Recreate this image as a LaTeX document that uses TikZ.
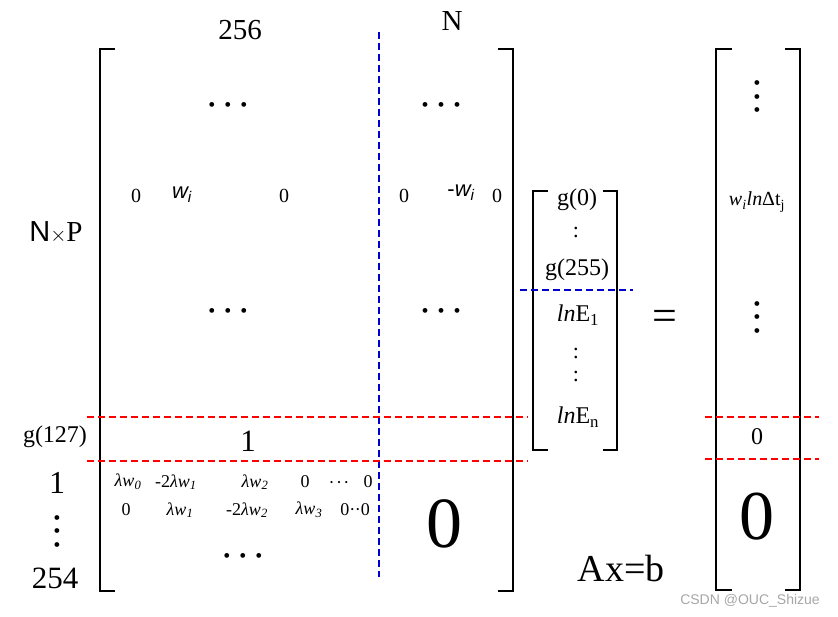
\documentclass[tikz,border=0pt]{standalone}
\usepackage{fontspec}
\setmainfont{Liberation Serif}
\newfontfamily\sansf{Liberation Sans}
\newcommand{\hdots}{•\hspace{9pt}•\hspace{9pt}•}
\newcommand{\vdotsb}{•\hspace{6.5pt}•\hspace{6.5pt}•}
\tikzset{
  fs/.style={font=\fontsize{#1}{#1}\selectfont, inner sep=0pt},
  brk/.style={line width=2pt, black},
  reddash/.style={red, line width=1.8pt, dash pattern=on 7pt off 4pt},
  bluedash/.style={blue!80!black, line width=1.6pt, dash pattern=on 7pt off 4pt},
  hdotsty/.style={inner sep=0pt, font=\fontsize{20}{20}\selectfont},
  vdotsty/.style={inner sep=0pt, rotate=90, font=\fontsize{20}{20}\selectfont},
}
\begin{document}
\begin{tikzpicture}[x=1pt,y=-1pt]
\useasboundingbox (0,0) rectangle (838,617);
% big matrix brackets
\coordinate (AL1) at (115,49); \coordinate (AL2) at (100,49); \coordinate (AL3) at (100,591); \coordinate (AL4) at (115,591);
\draw[brk] (AL1) -- (AL2) -- (AL3) -- (AL4);
\coordinate (AR1) at (498,49); \coordinate (AR2) at (513,49); \coordinate (AR3) at (513,591); \coordinate (AR4) at (498,591);
\draw[brk] (AR1) -- (AR2) -- (AR3) -- (AR4);
% x vector brackets
\coordinate (XL1) at (548,191); \coordinate (XL2) at (533,191); \coordinate (XL3) at (533,450); \coordinate (XL4) at (548,450);
\draw[brk] (XL1) -- (XL2) -- (XL3) -- (XL4);
\coordinate (XR1) at (603,191); \coordinate (XR2) at (617,191); \coordinate (XR3) at (617,450); \coordinate (XR4) at (603,450);
\draw[brk] (XR1) -- (XR2) -- (XR3) -- (XR4);
% b vector brackets
\coordinate (BL1) at (732,49); \coordinate (BL2) at (716,49); \coordinate (BL3) at (716,590); \coordinate (BL4) at (732,590);
\draw[brk] (BL1) -- (BL2) -- (BL3) -- (BL4);
\coordinate (BR1) at (785,49); \coordinate (BR2) at (800,49); \coordinate (BR3) at (800,590); \coordinate (BR4) at (785,590);
\draw[brk] (BR1) -- (BR2) -- (BR3) -- (BR4);
% dashed lines
\coordinate (bv1) at (379,32); \coordinate (bv2) at (379,577);
\draw[bluedash] (bv1) -- (bv2);
\coordinate (bh1) at (520,290); \coordinate (bh2) at (633,290);
\draw[bluedash] (bh1) -- (bh2);
\coordinate (r1a) at (87,417); \coordinate (r1b) at (528,417);
\coordinate (r2a) at (87,461); \coordinate (r2b) at (528,461);
\draw[reddash] (r1a) -- (r1b);
\draw[reddash] (r2a) -- (r2b);
\coordinate (r3a) at (705,417); \coordinate (r3b) at (819,417);
\coordinate (r4a) at (705,459); \coordinate (r4b) at (819,459);
\draw[reddash] (r3a) -- (r3b);
\draw[reddash] (r4a) -- (r4b);
% labels
\node[fs=29] (n256) at (240,30) {256};
\node[fs=29] (nN) at (452,21) {N};
\node[fs=29] (nNP) at (56,232) {{\sansf N}{\fontsize{22}{22}\selectfont$\times$}P};
\node[fs=24] (g127) at (55,437) {g(127)};
\node[fs=32] (one1) at (57,483) {1};
\node[vdotsty] (vl) at (59,531) {\vdotsb};
\node[fs=31] (n254) at (55,578) {254};
% top block
\node[hdotsty] (d1) at (228,107) {\hdots};
\node[hdotsty] (d2) at (441,107) {\hdots};
\node[fs=20] (z1) at (136,196) {0};
\node[fs=22] (wi) at (182,195) {\sansf\itshape w\textsubscript{i}};
\node[fs=20] (z2) at (284,196) {0};
\node[fs=20] (z3) at (404,196) {0};
\node[fs=22] (mwi) at (461,193) {\sansf -\itshape w\textsubscript{i}};
\node[fs=20] (z4) at (497,196) {0};
\node[hdotsty] (d3) at (228,313) {\hdots};
\node[hdotsty] (d4) at (441,313) {\hdots};
\node[fs=31] (one2) at (248,441) {1};
% lambda rows
\node[fs=18] (l1) at (128,482) {\itshape λw\textsubscript{0}};
\node[fs=18] (l2) at (176,482) {-2\itshape λw\textsubscript{1}};
\node[fs=18] (l3) at (255,482) {\itshape λw\textsubscript{2}};
\node[fs=18] (l4) at (305,482) {0};
\node[fs=18] (l5) at (339,485) {·\kern1.5pt·\kern1.5pt·};
\node[fs=18] (l6) at (368,482) {0};
\node[fs=18] (m1) at (126,510) {0};
\node[fs=18] (m2) at (180,510) {\itshape λw\textsubscript{1}};
\node[fs=18] (m3) at (247,510) {-2\itshape λw\textsubscript{2}};
\node[fs=18] (m4) at (309,510) {\itshape λw\textsubscript{3}};
\node[fs=18] (m5) at (355,510) {0·\kern-0.5pt·0};
\node[hdotsty] (d5) at (243,558) {\hdots};
\node[fs=72] (bigz) at (444,524) {0};
% x vector
\node[fs=24] (g0) at (577,200) {g(0)};
\node[fs=22] (c1) at (576,232) {:};
\node[fs=24] (g255) at (577,270) {g(255)};
\node[fs=24] (lnE1) at (578,315) {\textit{ln}E\textsubscript{1}};
\node[fs=22] (c2a) at (576,353) {:};
\node[fs=22] (c2b) at (576,376) {:};
\node[fs=24] (lnEn) at (578,417) {\textit{ln}E\textsubscript{n}};
\node[fs=44] (eq) at (665,320) {=};
% b vector
\node[vdotsty] (bv) at (759,97) {\vdotsb};
\node[fs=20] (wln) at (757,202) {\textit{w\textsubscript{i}ln}Δt\textsubscript{j}};
\node[vdotsty] (bv2) at (759,317) {\vdotsb};
\node[fs=24] (bz) at (757,437) {0};
\node[fs=70] (bbz) at (757,517) {0};
\node[fs=38] (axb) at (621,569) {Ax=b};
\node[fs=14, text=gray!70] (wm) at (750,601) {\sansf CSDN @OUC\_Shizue};
\end{tikzpicture}
\end{document}
